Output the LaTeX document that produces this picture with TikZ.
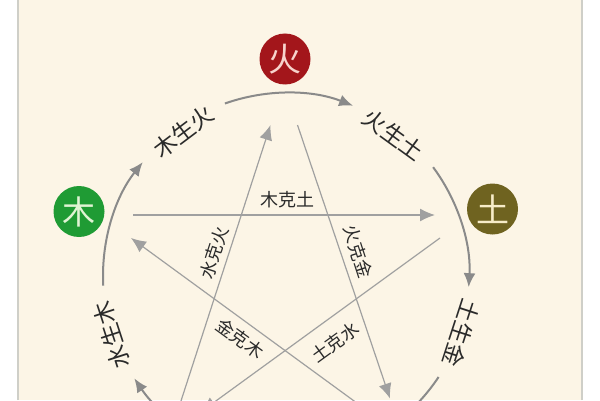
\documentclass[tikz,border=0pt]{standalone}
\usepackage{fontspec}
\newfontfamily\cjk{Noto Sans CJK SC}
\usetikzlibrary{arrows.meta,calc}
\definecolor{cream}{HTML}{FCF5E6}
\definecolor{bordergray}{HTML}{CFCFC8}
\definecolor{firered}{HTML}{A3161B}
\definecolor{firetxt}{HTML}{F7D3CC}
\definecolor{woodgreen}{HTML}{1F9B34}
\definecolor{woodtxt}{HTML}{E0F4D4}
\definecolor{earthol}{HTML}{6F6320}
\definecolor{earthtxt}{HTML}{F7ECC8}
\definecolor{arcgray}{HTML}{8A8A8A}
\definecolor{linegray}{HTML}{A0A0A0}
\definecolor{txt}{HTML}{2A2A2A}
\begin{document}
\begin{tikzpicture}[x=1pt,y=1pt,
  elem/.style={circle, minimum size=51pt, inner sep=0pt, font=\cjk\fontsize{33}{33}\selectfont},
  gen/.style={draw=arcgray, line width=2pt, -{Latex[length=14pt,width=12pt]}},
  ke/.style={draw=linegray, line width=1.2pt, -{Latex[length=15pt,width=13pt]}},
  genlbl/.style={font=\cjk\fontsize{23}{23}\selectfont, text=txt, inner sep=0pt},
  kelbl/.style={font=\cjk\fontsize{18}{18}\selectfont, text=txt, inner sep=0pt}]
\useasboundingbox (0,0) rectangle (600,400);
\fill[white] (0,0) rectangle (600,400);
\fill[cream] (18,0) rectangle (581,400);
\draw[bordergray, line width=2pt] (17.5,0) -- (17.5,400);
\draw[bordergray, line width=2pt] (581.5,0) -- (581.5,400);
\begin{scope}
\clip (19,0) rectangle (580,400);
\coordinate (O) at (286,124);
% element nodes
\node[elem, fill=firered, text=firetxt] (fire) at (285,341) {火};
\node[elem, fill=woodgreen, text=woodtxt] (wood) at (79,188.5) {木};
\node[elem, fill=earthol, text=earthtxt] (earth) at (492.5,191) {土};
% generating labels
\node[genlbl, rotate=37] (lwf) at (183.5,268.5) {木生火};
\node[genlbl, rotate=-36] (lfe) at (393.5,265) {火生土};
\node[genlbl, rotate=-108] (lem) at (462,67) {土生金};
\node[genlbl, rotate=108] (lww) at (111.5,65) {水生木};
% generating arcs
\coordinate (gA) at ($(O)+(183:183)$);
\coordinate (gB) at ($(O)+(109.5:183)$);
\coordinate (gC) at ($(O)+(36.5:183)$);
\coordinate (gD) at ($(O)+(-33.5:183)$);
\coordinate (gE) at ($(O)+(254.5:183)$);
\draw[gen] (gA) arc[start angle=183, end angle=141.5, radius=183pt];
\draw[gen] (gB) arc[start angle=109.5, end angle=68.5, radius=183pt];
\draw[gen] (gC) arc[start angle=36.5, end angle=-3.5, radius=183pt];
\draw[gen] (gD) arc[start angle=-33.5, end angle=-75.5, radius=183pt];
\draw[gen] (gE) arc[start angle=254.5, end angle=214, radius=183pt];
% overcoming lines
\coordinate (k1s) at (133,185);   \coordinate (k1e) at (435,185);
\coordinate (k2s) at (297.5,275); \coordinate (k2e) at (390,1.5);
\coordinate (k3s) at (180,-4);    \coordinate (k3e) at (270.5,275);
\coordinate (k4s) at (373.8,-15.4); \coordinate (k4e) at (131,162);
\coordinate (k5s) at (440,162);   \coordinate (k5e) at (201.4,-11.5);
\draw[ke] (k1s) -- (k1e);
\draw[ke] (k2s) -- (k2e);
\draw[ke] (k3s) -- (k3e);
\draw[ke] (k4s) -- (k4e);
\draw[ke] (k5s) -- (k5e);
% overcoming labels
\node[kelbl] (lwe) at (287,200) {木克土};
\node[kelbl, rotate=-72] (lfm) at (358,148.5) {火克金};
\node[kelbl, rotate=72] (lwaf) at (214,147.5) {水克火};
\node[kelbl, rotate=-36] (lmw) at (240,61.5) {金克木};
\node[kelbl, rotate=36] (lewa) at (335,57.5) {土克水};
\end{scope}
\end{tikzpicture}
\end{document}
